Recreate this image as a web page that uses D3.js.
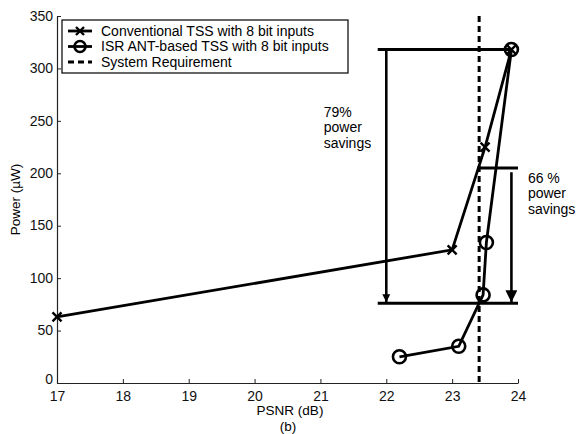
<!DOCTYPE html>
<html>
<head>
<meta charset="utf-8">
<script src="https://cdn.jsdelivr.net/npm/d3@7.9.0/dist/d3.min.js"></script>
<style>
  body { margin: 0; background: #fff; }
  svg { font-family: "Liberation Sans", Arial, sans-serif; }
</style>
</head>
<body>
<div id="chart"></div>
<script>
// data
const convPsnr = [17, 23, 23.5, 23.9];
const convPower = [63, 127, 225, 318];
const isrPsnr = [22.2, 23.1, 23.47, 23.52, 23.9];
const isrPower = [25, 35, 84, 134, 318];
const requirementPsnr = 23.41;

const xTicks = [17, 18, 19, 20, 21, 22, 23, 24];
const yTicks = [0, 50, 100, 150, 200, 250, 300, 350];

const legendLabels = [
    "Conventional TSS with 8 bit inputs",
    "ISR ANT-based TSS with 8 bit inputs",
    "System Requirement"
];

// savings brackets: [x0, x1, y] horizontals, [x, yFrom, yTo] arrows
const bracketLines = [
    [21.87, 23.9, 318],
    [21.87, 24, 76],
    [23.42, 24, 205]
];
const savingArrows = [
    [22, 318, 77],
    [23.9, 201, 77]
];
const savingText = [
    { x: 21.05, y: 254, lines: ["79%", "power", "savings"] },
    { x: 24.15, y: 191, lines: ["66 %", "power", "savings"] }
];

const width = 579, height = 434;
const margin = { top: 16, right: 61, bottom: 51, left: 57 };
const fontSize = 14;

const svg = d3.select("#chart").append("svg")
    .attr("width", width)
    .attr("height", height);

const x = d3.scaleLinear().domain([17, 24]).range([margin.left, width - margin.right]);
const y = d3.scaleLinear().domain([0, 350]).range([height - margin.bottom, margin.top]);

// arrowheads
const defs = svg.append("defs");
defs.append("marker")
    .attr("id", "arrowSmall")
    .attr("viewBox", "0 0 10 10")
    .attr("refX", 10).attr("refY", 5)
    .attr("markerUnits", "userSpaceOnUse")
    .attr("markerWidth", 14).attr("markerHeight", 8)
    .attr("orient", "auto")
    .append("path").attr("d", "M0,0 L10,5 L0,10 Z").attr("fill", "#000");
defs.append("marker")
    .attr("id", "arrowBig")
    .attr("viewBox", "0 0 10 10")
    .attr("refX", 10).attr("refY", 5)
    .attr("markerUnits", "userSpaceOnUse")
    .attr("markerWidth", 16).attr("markerHeight", 12)
    .attr("orient", "auto")
    .append("path").attr("d", "M0,0 L10,5 L0,10 Z").attr("fill", "#000");

// axes
const xAxis = d3.axisBottom(x).tickValues(xTicks).tickFormat(d3.format("d"))
    .tickSize(-4).tickPadding(8).tickSizeOuter(0);
const yAxis = d3.axisLeft(y).tickValues(yTicks).tickFormat(d3.format("d"))
    .tickSize(-4).tickPadding(4).tickSizeOuter(0);

const gx = svg.append("g")
    .attr("transform", `translate(0,${y(0)})`)
    .call(xAxis);
const gy = svg.append("g")
    .attr("transform", `translate(${x(17)},0)`)
    .call(yAxis);

[gx, gy].forEach(g => {
    g.selectAll("text").attr("font-size", fontSize).attr("fill", "#111")
        .attr("font-family", "Liberation Sans, Arial, sans-serif");
    g.select(".domain").attr("stroke", "#222").attr("stroke-width", 1.2);
    g.selectAll(".tick line").attr("stroke", "#222");
});
gy.selectAll("text").attr("dy", d => d === 0 ? "0.05em" : "0.3em");

svg.append("text")
    .attr("x", 290).attr("y", 415)
    .attr("text-anchor", "middle")
    .attr("font-size", 13.5)
    .text("PSNR (dB)");
svg.append("text")
    .attr("x", 288).attr("y", 431)
    .attr("text-anchor", "middle")
    .attr("font-size", 13.5)
    .text("(b)");
svg.append("text")
    .attr("transform", `translate(20,${(y(0) + y(350)) / 2}) rotate(-90)`)
    .attr("text-anchor", "middle")
    .attr("font-size", 13.5)
    .text("Power (\u00b5W)");

// requirement line
svg.append("line")
    .attr("x1", x(requirementPsnr)).attr("x2", x(requirementPsnr))
    .attr("y1", y(350)).attr("y2", y(0))
    .attr("stroke", "#000").attr("stroke-width", 3)
    .attr("stroke-dasharray", "6,4");

// brackets
svg.selectAll(".bracket")
    .data(bracketLines)
    .join("line")
    .attr("class", "bracket")
    .attr("x1", d => x(d[0])).attr("x2", d => x(d[1]))
    .attr("y1", d => y(d[2])).attr("y2", d => y(d[2]))
    .attr("stroke", "#000").attr("stroke-width", 3);

svg.selectAll(".saving-arrow")
    .data(savingArrows)
    .join("line")
    .attr("class", "saving-arrow")
    .attr("x1", d => x(d[0])).attr("x2", d => x(d[0]))
    .attr("y1", d => y(d[1])).attr("y2", d => y(d[2]))
    .attr("stroke", "#000").attr("stroke-width", 2.6)
    .attr("marker-end", (d, i) => i === 0 ? "url(#arrowSmall)" : "url(#arrowBig)");

savingText.forEach(t => {
    const txt = svg.append("text")
        .attr("font-size", fontSize)
        .attr("x", x(t.x)).attr("y", y(t.y));
    t.lines.forEach((l, i) => {
        txt.append("tspan")
            .attr("x", x(t.x))
            .attr("dy", i === 0 ? 0 : 15.5)
            .text(l);
    });
});

// series
const line = d3.line().x(d => x(d[0])).y(d => y(d[1]));
const conv = convPsnr.map((v, i) => [v, convPower[i]]);
const isr = isrPsnr.map((v, i) => [v, isrPower[i]]);

svg.append("path").datum(conv)
    .attr("fill", "none").attr("stroke", "#000").attr("stroke-width", 2.8)
    .attr("d", line);
svg.append("path").datum(isr)
    .attr("fill", "none").attr("stroke", "#000").attr("stroke-width", 2.8)
    .attr("d", line);

const crossPath = s => `M${-s},${-s}L${s},${s}M${-s},${s}L${s},${-s}`;
svg.selectAll(".cross")
    .data(conv)
    .join("path")
    .attr("class", "cross")
    .attr("transform", d => `translate(${x(d[0])},${y(d[1])})`)
    .attr("d", crossPath(4.5))
    .attr("stroke", "#000").attr("stroke-width", 2.4);

svg.selectAll(".ring")
    .data(isr)
    .join("circle")
    .attr("class", "ring")
    .attr("cx", d => x(d[0])).attr("cy", d => y(d[1]))
    .attr("r", 6.5)
    .attr("fill", "none").attr("stroke", "#000").attr("stroke-width", 2.6);

// legend
const lg = svg.append("g");
lg.append("rect")
    .attr("x", 62).attr("y", 20)
    .attr("width", 286).attr("height", 53)
    .attr("fill", "#fff").attr("stroke", "#000").attr("stroke-width", 1.2);

legendLabels.forEach((lab, i) => {
    const ly = 31 + i * 15.5;
    const sym = lg.append("g");
    if (i < 2) {
        sym.append("line")
            .attr("x1", 68).attr("x2", 92).attr("y1", ly).attr("y2", ly)
            .attr("stroke", "#000").attr("stroke-width", 2.8);
    } else {
        sym.append("line")
            .attr("x1", 68).attr("x2", 92).attr("y1", ly).attr("y2", ly)
            .attr("stroke", "#000").attr("stroke-width", 3)
            .attr("stroke-dasharray", "6,4");
    }
    if (i === 0) {
        sym.append("path").attr("transform", `translate(80,${ly})`)
            .attr("d", crossPath(4)).attr("stroke", "#000").attr("stroke-width", 2.4);
    }
    if (i === 1) {
        sym.append("circle").attr("cx", 80).attr("cy", ly).attr("r", 5.5)
            .attr("fill", "none").attr("stroke", "#000").attr("stroke-width", 2.6);
    }
    lg.append("text")
        .attr("x", 101).attr("y", ly)
        .attr("dy", "0.35em")
        .attr("font-size", 14)
        .text(lab);
});
</script>
</body>
</html>
